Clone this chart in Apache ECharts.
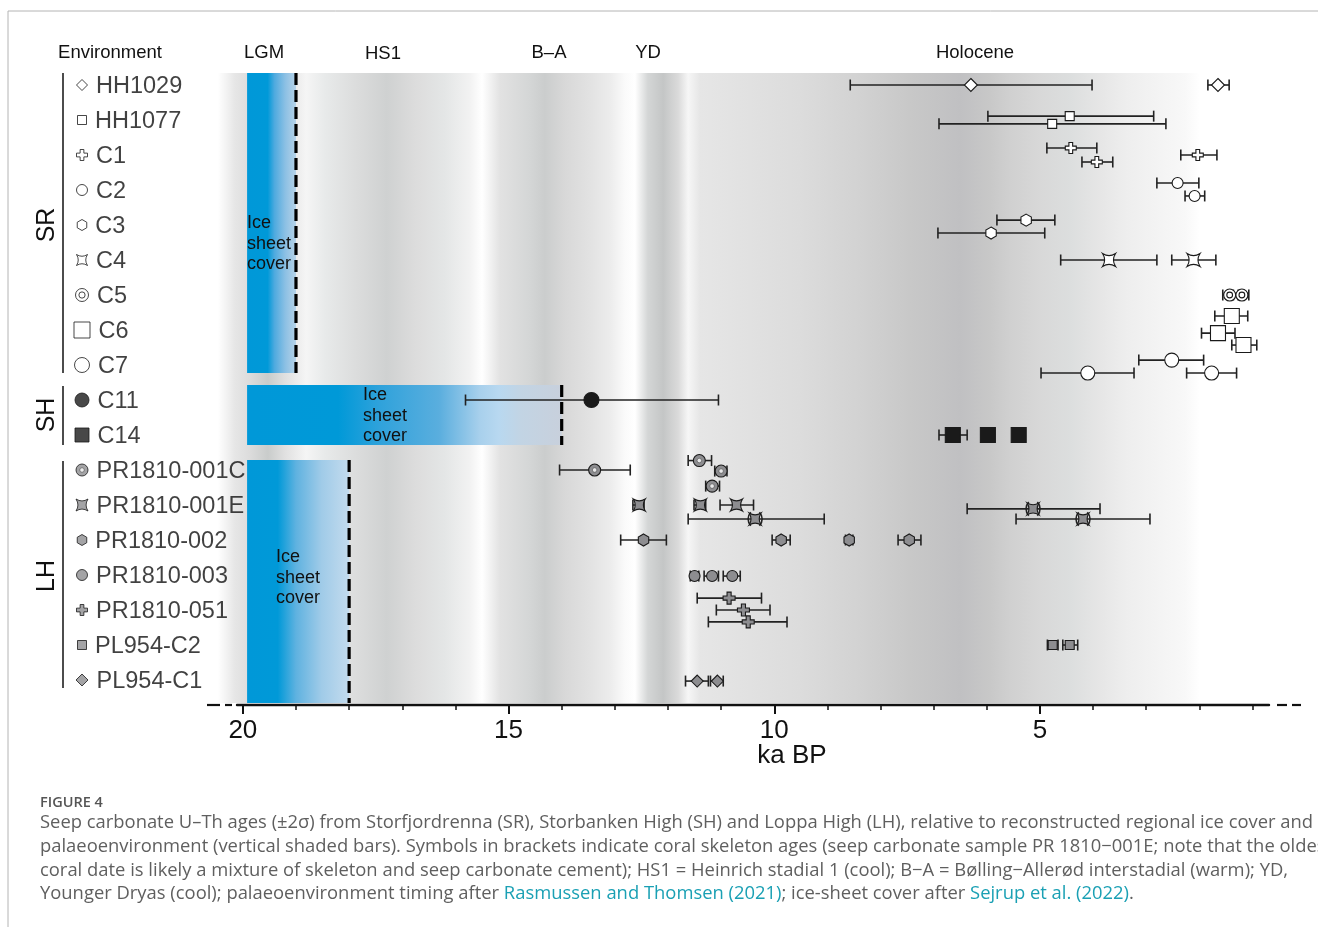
<!DOCTYPE html>
<html>
<head>
<meta charset="utf-8">
<script src="https://cdn.jsdelivr.net/npm/echarts@6/dist/echarts.min.js"></script>
<style>
html,body{margin:0;padding:0;background:#fff;}
#chart{width:1318px;height:927px;}
</style>
</head>
<body>
<div id="chart"></div>
<script>
// ---------------- DATA ----------------
const rowNames = ['HH1029','HH1077','C1','C2','C3','C4','C5','C6','C7','C11','C14',
  'PR1810-001C','PR1810-001E','PR1810-002','PR1810-003','PR1810-051','PL954-C2','PL954-C1'];
const regionNames = ['SR','SH','LH'];
const periodLabels = ['LGM','HS1','B–A','YD','Holocene'];
const xTickValues = [1,2,3,4,5,6,7,8,9,10,11,12,13,14,15,16,17,18,19,20];
const xLabelValues = [5,10,15,20];

// U-Th ages: [age ka, older bound, younger bound]
const HH1029 = [[6.30,8.57,4.02],[1.65,1.84,1.44]];
const HH1077 = [[4.44,5.98,2.86],[4.77,6.90,2.63]];
const C1 = [[4.42,4.87,3.93],[3.93,4.21,3.63],[2.03,2.35,1.67]];
const C2 = [[2.41,2.80,2.01],[2.09,2.27,1.90]];
const C3 = [[5.26,5.81,4.72],[5.92,6.92,4.91]];
const C4 = [[3.70,4.61,2.80],[2.11,2.52,1.69]];
const C5 = [[1.43,1.56,1.36],[1.20,1.27,1.07]];
const C6 = [[1.39,1.71,1.09],[1.65,1.96,1.33],[1.17,1.39,0.92]];
const C7 = [[2.52,3.14,1.92],[4.10,4.98,3.23],[1.77,2.24,1.30]];
const C11 = [[13.44,15.81,11.05]];
const C14 = [[6.64,6.90,6.37],[5.98,6.05,5.91],[5.40,5.47,5.33]];
const PR1810_001C = [[13.38,14.04,12.71],[11.41,11.62,11.18],[11.00,11.12,10.89],[11.17,11.29,11.03]];
const PR1810_001E = [[12.54,12.66,12.45],[11.39,11.51,11.29],[10.71,11.02,10.39],[10.36,11.62,9.06],[5.13,6.37,3.87],[4.19,5.45,2.93]];
const PR1810_002 = [[12.46,12.89,12.03],[9.87,10.04,9.70],[8.59,8.66,8.52],[7.46,7.67,7.24]];
const PR1810_003 = [[11.50,11.58,11.42],[11.17,11.32,11.05],[10.79,10.96,10.64]];
const PR1810_051 = [[10.85,11.45,10.24],[10.58,11.09,10.08],[10.49,11.24,9.76]];
const PL954_C2 = [[4.76,4.86,4.66],[4.44,4.57,4.29]];
const PL954_C1 = [[11.45,11.67,11.24],[11.07,11.20,10.96]];

// coral skeleton ages (bracketed symbols), flags per PR1810-001E point
const coralPR1810_001E = [0,0,0,1,1,1];

// ice-sheet cover end (ka) per region
const iceEnd = [19.0, 14.0, 18.0];

// ---------------- LAYOUT / STYLE ----------------
const samples = [HH1029,HH1077,C1,C2,C3,C4,C5,C6,C7,C11,C14,PR1810_001C,PR1810_001E,PR1810_002,PR1810_003,PR1810_051,PL954_C2,PL954_C1];
const lanes = [[0,0],[-0.11,0.11],[-0.2,0.2,0],[-0.2,0.17],[-0.14,0.23],[0,0],[0,0],[-0.4,0.09,0.43],[-0.14,0.23,0.23],
  [0],[0,0,0],[0,-0.27,0.03,0.46],[0,0,0,0.4,0.11,0.4],[0,0,0,0],[0.03,0.03,0.03],[-0.34,0,0.34],[0,0,0],[0.03,0.03]];
const P = {
  cross:'path://M3.3,0H6.7V3.3H10V6.7H6.7V10H3.3V6.7H0V3.3H3.3Z',
  hex:'path://M5,0L9.33,2.5L9.33,7.5L5,10L0.67,7.5L0.67,2.5Z',
  star:'path://M0,0Q5,3.2,10,0Q6.8,5,10,10Q5,6.8,0,10Q3.2,5,0,0Z',
  dcirc:'path://M0,5A5,5,0,1,1,10,5A5,5,0,1,1,0,5ZM2.6,5A2.4,2.4,0,1,1,7.4,5A2.4,2.4,0,1,1,2.6,5Z'
};
const W='#ffffff', K='#1a1a1a', G='#8d8d90';
const sym = [
  ['diamond',13,11,W],['rect',9,9,W],[P.cross,11,11,W],['circle',11,11,W],[P.hex,12,11,W],[P.star,13,11,W],
  [P.dcirc,12,13,W],['rect',15,16,W],['circle',14,15,W],['circle',15,14,K],['rect',15,14,K],
  ['circle',12,12,G],[P.star,12,12,G],[P.hex,12,11,G],['circle',11,11,G],[P.cross,12,11,G],['rect',9,9,G],['diamond',12,12,G]
];

const yMin = -0.343, yMax = 17.714;
const bgTop = -0.343, bgBottom = 17.657;
const iceRows = [[-0.343,8.229],[8.571,10.286],[10.714,17.657]];
const iceStops = [
  [[0,'#0098d8'],[0.42,'#0099d8'],[0.56,'#4eaadf'],[0.78,'#8cc0e4'],[1,'#b5d2e8']],
  [[0,'#0098d8'],[0.29,'#0099d8'],[0.42,'#2fa2db'],[0.61,'#5aaede'],[0.74,'#a8d0ec'],[0.8,'#b8d8f0'],[0.87,'#c2d4e4'],[1,'#c8d0dc']],
  [[0,'#0098d8'],[0.3,'#0099d8'],[0.48,'#5fb2e0'],[0.73,'#a0cbe8'],[1,'#c3dbee']]
];
const bg = [[20.47,'#ffffff'],[20.15,'#e6e6e6'],[19.87,'#dcdcdc'],[19.53,'#c9cccb'],[19.21,'#e0e0e0'],[18.81,'#f5f5f5'],
  [18.46,'#e8eaea'],[17.89,'#dcdddd'],[17.29,'#cfd1d1'],[16.76,'#dcdcdc'],[16.2,'#e4e6e6'],[15.73,'#f2f2f2'],[15.5,'#ffffff'],
  [15.16,'#e2e2e2'],[14.6,'#d4d6d6'],[14.32,'#cbcdcd'],[13.94,'#d8d8d8'],[13.47,'#e2e2e2'],[13.09,'#ececec'],[12.81,'#fafafa'],
  [12.62,'#ffffff'],[12.38,'#d4d6d6'],[12.09,'#c4c6c6'],[11.81,'#dadada'],[11.62,'#f6f6f6'],[11.4,'#e6e6e6'],[10.65,'#e2e2e2'],
  [9.52,'#dcdcdc'],[8.39,'#d2d2d2'],[7.45,'#c8c8c8'],[6.5,'#c0c0c2'],[5.94,'#c8c8c8'],[5.56,'#d0d0d0'],[5.0,'#d8d8d8'],
  [4.43,'#dcdede'],[3.87,'#e6e6e6'],[3.36,'#eeeeee'],[2.83,'#f3f3f3'],[2.27,'#f8f8f8'],[1.99,'#ffffff']];

const FONT = '"Liberation Sans", Arial, sans-serif';
const CAP = '"Open Sans", sans-serif';

const chart = echarts.init(document.getElementById('chart'), null, {renderer:'canvas'});

const series = [];
// background palaeoenvironment shading
series.push({
  type:'custom', xAxisIndex:0, yAxisIndex:0, clip:false, z:1, silent:true,
  data:[[bg[0][0], bg[bg.length-1][0], bgTop, bgBottom]],
  renderItem:(params, api)=>{
    const p0 = api.coord([api.value(0), api.value(2)]);
    const p1 = api.coord([api.value(1), api.value(3)]);
    const span = bg[0][0]-bg[bg.length-1][0];
    const stops = bg.map(s=>({offset:(bg[0][0]-s[0])/span, color:s[1]}));
    return {type:'rect', shape:{x:p0[0], y:p0[1], width:p1[0]-p0[0], height:p1[1]-p0[1]},
      style:{fill:new echarts.graphic.LinearGradient(0,0,1,0,stops)}};
  }
});
// ice sheet cover boxes + dashed limit
series.push({
  type:'custom', xAxisIndex:0, yAxisIndex:0, clip:false, z:2, silent:true,
  data: iceEnd.map((e,i)=>[19.92, e, iceRows[i][0], iceRows[i][1], i]),
  renderItem:(params, api)=>{
    const p0 = api.coord([api.value(0), api.value(2)]);
    const p1 = api.coord([api.value(1), api.value(3)]);
    const st = iceStops[api.value(4)].map(s=>({offset:s[0], color:s[1]}));
    return {type:'group', children:[
      {type:'rect', shape:{x:p0[0], y:p0[1], width:p1[0]-p0[0], height:p1[1]-p0[1]},
        style:{fill:new echarts.graphic.LinearGradient(0,0,1,0,st)}},
      {type:'line', shape:{x1:p1[0], y1:p0[1], x2:p1[0], y2:p1[1]},
        style:{stroke:'#000', lineWidth:3.2, lineDash:[12,5]}}
    ]};
  }
});
// error bars
const errData = [];
samples.forEach((arr, r)=>{
  arr.forEach((d, j)=>{
    const coral = (r===12) ? coralPR1810_001E[j] : 0;
    errData.push([d[0], d[1], d[2], r + lanes[r][j], coral]);
  });
});
series.push({
  type:'custom', xAxisIndex:0, yAxisIndex:0, clip:false, z:3, silent:true,
  data: errData,
  renderItem:(params, api)=>{
    const c = api.coord([api.value(0), api.value(3)]);
    const a = api.coord([api.value(1), api.value(3)]);
    const b = api.coord([api.value(2), api.value(3)]);
    const y = c[1], h = 5.5;
    const st = {stroke:'#222', lineWidth:1.6};
    const ch = [
      {type:'line', shape:{x1:a[0], y1:y, x2:b[0], y2:y}, style:st},
      {type:'line', shape:{x1:a[0], y1:y-h, x2:a[0], y2:y+h}, style:st},
      {type:'line', shape:{x1:b[0], y1:y-h, x2:b[0], y2:y+h}, style:st}
    ];
    if (api.value(4)) {
      ch.push({type:'arc', shape:{cx:c[0]+3, cy:y, r:10, startAngle:Math.PI-0.75, endAngle:Math.PI+0.75}, style:{stroke:'#222', lineWidth:1.6, fill:null}});
      ch.push({type:'arc', shape:{cx:c[0]-3, cy:y, r:10, startAngle:-0.75, endAngle:0.75}, style:{stroke:'#222', lineWidth:1.6, fill:null}});
    }
    return {type:'group', children:ch, z2:1};
  }
});
// markers
samples.forEach((arr, r)=>{
  const s = sym[r];
  series.push({
    type:'scatter', name:rowNames[r], xAxisIndex:0, yAxisIndex:0, z:5, silent:true,
    symbol:s[0], symbolSize:s[1], symbolKeepAspect:true,
    itemStyle:{color:s[3], borderColor:'#1a1a1a', borderWidth:1.1, opacity:1},
    data: arr.map((d,j)=>[d[0], r + lanes[r][j]])
  });
  if (r===11) {
    series.push({type:'scatter', xAxisIndex:0, yAxisIndex:0, z:6, silent:true, symbol:'circle', symbolSize:4.5,
      itemStyle:{color:'#fff', borderColor:'#333', borderWidth:0.6}, data: arr.map((d,j)=>[d[0], r + lanes[r][j]])});
  }
});
// row legend column
rowNames.forEach((n, r)=>{
  const s = sym[r];
  series.push({
    type:'scatter', xAxisIndex:1, yAxisIndex:1, z:5, silent:true,
    symbol:s[0], symbolSize:s[2], symbolKeepAspect:true,
    itemStyle:{color:s[3], borderColor:'#1a1a1a', borderWidth:1},
    label:{show:true, position:'right', distance:8, offset:[0,2], formatter:n, color:'#111', fontSize:23.5, fontFamily:FONT},
    data:[[0.075, r]]
  });
  if (r===11) {
    series.push({type:'scatter', xAxisIndex:1, yAxisIndex:1, z:6, silent:true, symbol:'circle', symbolSize:4.5,
      itemStyle:{color:'#fff', borderColor:'#333', borderWidth:0.6}, data:[[0.075, r]]});
  }
});

const txt = (x,y,text,opt)=>Object.assign({type:'text', x, y, style:Object.assign({text, fill:'#111', font:'18.5px '+FONT, textAlign:'center', textVerticalAlign:'middle'}, opt||{})});
const periodX = [264, 383, 549, 648, 975];
const graphics = [
  {type:'line', shape:{x1:8, y1:11, x2:1318, y2:11}, style:{stroke:'#b4b4b4', lineWidth:1}},
  {type:'line', shape:{x1:8, y1:11, x2:8, y2:927}, style:{stroke:'#b4b4b4', lineWidth:1}},
  txt(110, 53, 'Environment'),
  // region brackets
  {type:'line', shape:{x1:63, y1:73, x2:63, y2:373}, style:{stroke:'#111', lineWidth:1.5}},
  {type:'line', shape:{x1:63, y1:386, x2:63, y2:445}, style:{stroke:'#111', lineWidth:1.5}},
  {type:'line', shape:{x1:63, y1:461, x2:63, y2:688}, style:{stroke:'#111', lineWidth:1.5}},
  Object.assign(txt(47, 225, regionNames[0], {font:'25px '+FONT}), {rotation:Math.PI/2}),
  Object.assign(txt(47, 415, regionNames[1], {font:'25px '+FONT}), {rotation:Math.PI/2}),
  Object.assign(txt(47, 576, regionNames[2], {font:'25px '+FONT}), {rotation:Math.PI/2}),
  // ice sheet cover labels
  {type:'text', x:247, y:213, z:10, style:{text:'Ice\nsheet\ncover', fill:'#111', font:'18px '+FONT, lineHeight:20.5, textAlign:'left'}},
  {type:'text', x:363, y:385, z:10, style:{text:'Ice\nsheet\ncover', fill:'#111', font:'18px '+FONT, lineHeight:20.5, textAlign:'left'}},
  {type:'text', x:276, y:547, z:10, style:{text:'Ice\nsheet\ncover', fill:'#111', font:'18px '+FONT, lineHeight:20.5, textAlign:'left'}},
  // axis dashes
  {type:'line', shape:{x1:207, y1:705, x2:220, y2:705}, style:{stroke:'#111', lineWidth:2.2}},
  {type:'line', shape:{x1:225, y1:705, x2:232, y2:705}, style:{stroke:'#111', lineWidth:2.2}},
  {type:'line', shape:{x1:1277, y1:705, x2:1287, y2:705}, style:{stroke:'#111', lineWidth:2.2}},
  {type:'line', shape:{x1:1292, y1:705, x2:1301, y2:705}, style:{stroke:'#111', lineWidth:2.2}},
  // caption
  {type:'text', x:40, y:803, style:{text:'FIGURE 4', fill:'#555', font:'600 14.5px '+CAP, textVerticalAlign:'middle'}},
  {type:'text', x:40, y:823, style:{text:'Seep carbonate U–Th ages (±2σ) from Storfjordrenna (SR), Storbanken High (SH) and Loppa High (LH), relative to reconstructed regional ice cover and', fill:'#5f5f5f', font:'18.4px '+CAP, textVerticalAlign:'middle'}},
  {type:'text', x:40, y:847, style:{text:'palaeoenvironment (vertical shaded bars). Symbols in brackets indicate coral skeleton ages (seep carbonate sample PR 1810−001E; note that the oldest', fill:'#5f5f5f', font:'18.4px '+CAP, textVerticalAlign:'middle'}},
  {type:'text', x:40, y:871, style:{text:'coral date is likely a mixture of skeleton and seep carbonate cement); HS1 = Heinrich stadial 1 (cool); B−A = Bølling−Allerød interstadial (warm); YD,', fill:'#5f5f5f', font:'18.4px '+CAP, textVerticalAlign:'middle'}},
  {type:'text', x:40, y:894, style:{text:'Younger Dryas (cool); palaeoenvironment timing after {a|Rasmussen and Thomsen (2021)}; ice-sheet cover after {a|Sejrup et al. (2022)}.', fill:'#5f5f5f', font:'18.4px '+CAP, textVerticalAlign:'middle', rich:{a:{fill:'#1aa0b4', font:'18.4px '+CAP}}}}
];
periodLabels.forEach((p,i)=>graphics.push(txt(periodX[i], i===1?54:53, p)));

chart.setOption({
  animation:false,
  backgroundColor:'#ffffff',
  grid:[
    {left:237, right:49, top:73, bottom:222},
    {left:70, width:160, top:73, bottom:222}
  ],
  xAxis:[
    {type:'value', gridIndex:0, inverse:true, min:0.69, max:20.11, position:'bottom',
      axisLine:{show:true, onZero:false, lineStyle:{color:'#111', width:2.4}},
      axisTick:{show:true, customValues:xTickValues, length:5, lineStyle:{color:'#111', width:1.5}},
      axisLabel:{show:false}, splitLine:{show:false}},
    {type:'value', gridIndex:1, min:0, max:1, show:false},
    {type:'value', gridIndex:0, inverse:true, min:0.69, max:20.11, position:'bottom',
      axisLine:{show:false, onZero:false},
      axisTick:{show:true, customValues:xLabelValues, length:9, lineStyle:{color:'#111', width:2}},
      axisLabel:{show:true, customValues:xLabelValues, margin:13, fontSize:26, color:'#111', fontFamily:FONT},
      splitLine:{show:false},
      name:'ka BP', nameLocation:'middle', nameGap:38, nameMoveOverlap:false,
      nameTextStyle:{fontSize:26, color:'#111', fontFamily:FONT, verticalAlign:'top', padding:[0,0,0,78]}}
  ],
  yAxis:[
    {type:'value', gridIndex:0, inverse:true, min:yMin, max:yMax, show:false},
    {type:'value', gridIndex:1, inverse:true, min:yMin, max:yMax, show:false}
  ],
  graphic:graphics,
  series
});
</script>
</body>
</html>
